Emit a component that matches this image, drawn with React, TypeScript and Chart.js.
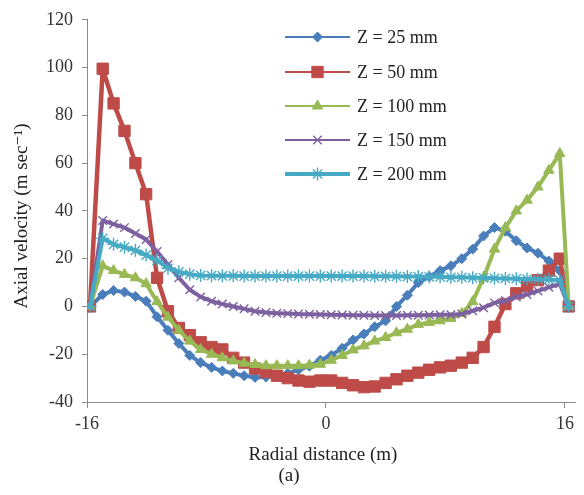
import React, { useEffect, useRef } from 'react';
import { Chart, registerables } from 'chart.js';
import { drawPoint } from 'chart.js/helpers';

Chart.register(...registerables);

const radialDistance = [
  -15.8, -14.95, -14.22, -13.49, -12.76, -12.04, -11.31, -10.58, -9.85, -9.12, -8.39, -7.66, -6.94,
  -6.21, -5.48, -4.75, -4.02, -3.29, -2.56, -1.84, -1.11, -0.38, 0.35, 1.08, 1.81, 2.54, 3.26, 3.99,
  4.72, 5.45, 6.18, 6.91, 7.64, 8.36, 9.09, 9.82, 10.55, 11.28, 12.01, 12.74, 13.46, 14.19, 14.92,
  15.65, 16.25,
];

const z25 = [
  0, 5, 6.7, 6, 4.2, 2.2, -4.3, -10, -15.5, -20.5, -23.5, -25.5, -27, -28, -29, -29.7, -29.5, -29,
  -28, -26.5, -25, -22.5, -20.5, -17.5, -14, -11.5, -8.5, -6, 0, 4.7, 10, 12.5, 15, 17, 20, 24, 29.5,
  33, 31.5, 27.5, 24.5, 22.3, 19, 15, 0,
];

const z50 = [
  0, 99.5, 85, 73.5, 60, 47, 12, -2, -9, -12, -15, -17, -18, -21.5, -23.5, -26, -27.5, -29, -30,
  -31, -31.5, -31, -31, -32, -33, -33.8, -33.5, -32, -30.5, -29, -27.7, -26.5, -25.5, -24.8, -23.5,
  -21.5, -17, -8.5, 1, 5.5, 8.5, 11, 15, 20, 0,
];

const z100 = [
  0, 17, 15, 13.4, 12, 9.5, 2, -4.5, -10, -14.5, -18, -20, -21.5, -22.8, -23.8, -24.3, -24.8, -24.8,
  -24.8, -24.8, -24.6, -24.2, -22.5, -20.5, -18.2, -16.5, -14.5, -13, -11, -9.5, -7.5, -6.7, -6, -5,
  -3, 2, 12, 24, 33, 40, 44.5, 50, 57, 64, 0,
];

const z150 = [
  0, 36, 34.5, 33, 30.5, 28, 23, 17.5, 12, 7, 4, 2.2, 1, 0, -1, -2, -2.5, -2.8, -3, -3.2, -3.3, -3.4,
  -3.5, -3.6, -3.7, -3.7, -3.8, -3.8, -3.8, -3.7, -3.7, -3.6, -3.5, -3.5, -3.2, -1.8, -0.5, 1.5, 2.5,
  4, 5, 6.5, 8, 9.5, 0,
];

const z200 = [
  0, 28.5, 26, 24.8, 23.5, 21.5, 19.3, 16, 14.5, 13.5, 13, 12.9, 12.8, 12.8, 12.7, 12.7, 12.7, 12.7,
  12.7, 12.7, 12.7, 12.7, 12.7, 12.7, 12.7, 12.7, 12.6, 12.6, 12.6, 12.5, 12.5, 12.4, 12.4, 12.2,
  12.2, 12, 12, 11.8, 11.7, 11.6, 11.5, 11.4, 11.3, 11, 0,
];

const seriesLabels = ['Z = 25 mm', 'Z = 50 mm', 'Z = 100 mm', 'Z = 150 mm', 'Z = 200 mm'];
const seriesValues = [z25, z50, z100, z150, z200];
const seriesColors = ['#4A7EBB', '#BE4B48', '#98B954', '#7D60A0', '#46AAC5'];
const seriesMarkers = ['rectRot', 'rect', 'triangle', 'crossRot', 'star'];
const markerRadius = [5, 8, 6, 6, 6.5];
const markerBorder = [1, 1, 1, 1.4, 1.4];
const lineWidths = [4, 4.5, 4, 4, 4];
const legendLineWidths = [2, 2, 2, 2, 4];

const xTicks = [-16, 0, 16];

const SERIF = '"Liberation Serif", "DejaVu Serif", serif';

const decorPlugin = {
  id: 'decor',
  afterDraw(chart: any) {
    const ctx = chart.ctx as CanvasRenderingContext2D;
    ctx.save();
    const lx0 = 285;
    const lx1 = 350;
    const rowY = [37, 72, 106, 140, 174];
    seriesLabels.forEach((label, i) => {
      const y = rowY[i];
      ctx.strokeStyle = seriesColors[i];
      ctx.lineWidth = legendLineWidths[i];
      ctx.beginPath();
      ctx.moveTo(lx0, y);
      ctx.lineTo(lx1, y);
      ctx.stroke();
      ctx.fillStyle = seriesColors[i];
      ctx.strokeStyle = seriesColors[i];
      ctx.lineWidth = markerBorder[i];
      drawPoint(
        ctx,
        { pointStyle: seriesMarkers[i] as any, radius: markerRadius[i], borderWidth: markerBorder[i], rotation: 0 },
        (lx0 + lx1) / 2,
        y,
      );
      ctx.fillStyle = '#222';
      ctx.font = `18px ${SERIF}`;
      ctx.textAlign = 'left';
      ctx.textBaseline = 'middle';
      ctx.fillText(label, 357, y + 1);
    });

    ctx.fillStyle = '#222';
    ctx.font = `19px ${SERIF}`;
    ctx.textAlign = 'center';
    ctx.textBaseline = 'middle';
    ctx.fillText('Radial distance (m)', 323, 455);
    ctx.fillText('(a)', 289, 476);

    ctx.save();
    ctx.translate(22, 216);
    ctx.rotate(-Math.PI / 2);
    ctx.font = `19px ${SERIF}`;
    ctx.fillText('Axial velocity (m sec\u207B\u00B9)', 0, 0);
    ctx.restore();

    ctx.restore();
  },
};

export default function App() {
  const canvasRef = useRef<HTMLCanvasElement | null>(null);

  useEffect(() => {
    document.body.style.margin = '0';
    const canvas = canvasRef.current;
    if (!canvas) return;
    const chart = new Chart(canvas, {
      type: 'line',
      data: {
        datasets: seriesLabels.map((label, i) => ({
          label,
          data: radialDistance.map((x, j) => ({ x, y: seriesValues[i][j] })),
          borderColor: seriesColors[i],
          backgroundColor: seriesColors[i],
          pointBackgroundColor: seriesColors[i],
          pointBorderColor: seriesColors[i],
          pointStyle: seriesMarkers[i] as any,
          pointRadius: markerRadius[i],
          pointBorderWidth: markerBorder[i],
          borderWidth: lineWidths[i],
          borderJoinStyle: 'round' as const,
          tension: 0,
          fill: false,
          order: seriesLabels.length - i,
        })),
      },
      options: {
        animation: false,
        responsive: false,
        maintainAspectRatio: false,
        layout: { padding: { top: 12, right: 6, left: 0, bottom: 0 } },
        plugins: {
          legend: { display: false },
          tooltip: { enabled: false },
          title: { display: false },
        },
        scales: {
          x: {
            type: 'linear',
            min: -16,
            max: 16.67,
            afterBuildTicks: (scale: any) => {
              scale.ticks = xTicks.map((v) => ({ value: v }));
            },
            afterFit: (scale: any) => {
              scale.height = 93;
            },
            grid: {
              display: true,
              drawOnChartArea: false,
              drawTicks: true,
              tickLength: 6,
              color: '#8a8a8a',
            },
            border: { display: true, color: '#8a8a8a', width: 1 },
            ticks: {
              autoSkip: false,
              maxRotation: 0,
              padding: 5,
              color: '#333',
              font: { family: SERIF, size: 18 },
              callback: (v: any) => String(v),
            },
          },
          y: {
            type: 'linear',
            min: -40,
            max: 120,
            afterFit: (scale: any) => {
              scale.width = 87;
            },
            grid: {
              display: true,
              drawOnChartArea: false,
              drawTicks: true,
              tickLength: 5,
              color: '#8a8a8a',
            },
            border: { display: true, color: '#8a8a8a', width: 1 },
            ticks: {
              stepSize: 20,
              padding: 9,
              color: '#333',
              font: { family: SERIF, size: 18 },
            },
          },
        },
      },
      plugins: [decorPlugin],
    });
    return () => chart.destroy();
  }, []);

  return (
    <div style={{ width: 584, height: 495, background: '#fff' }}>
      <canvas ref={canvasRef} width={584} height={495} style={{ display: 'block', width: 584, height: 495 }} />
    </div>
  );
}
